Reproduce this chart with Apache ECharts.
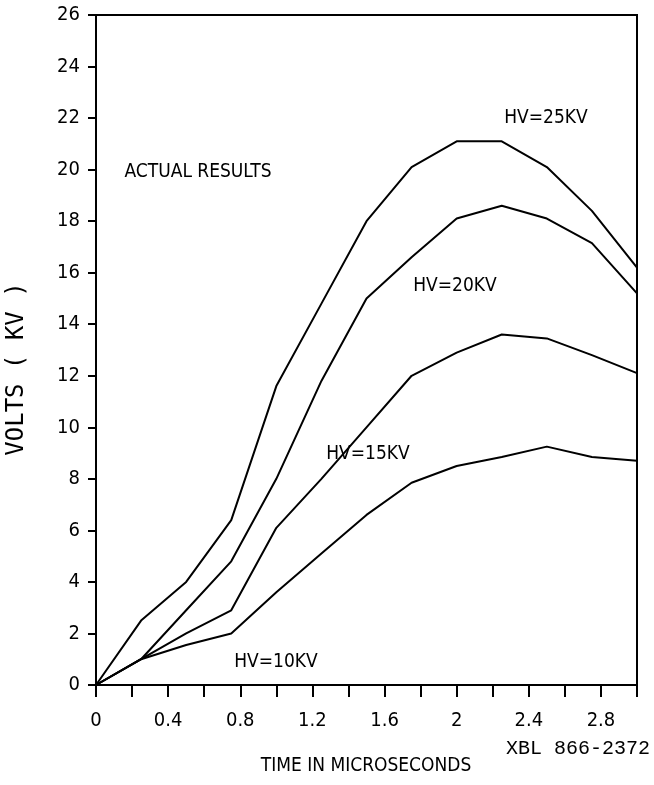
<!DOCTYPE html>
<html>
<head>
<meta charset="utf-8">
<script src="https://cdn.jsdelivr.net/npm/echarts@6/dist/echarts.min.js"></script>
<style>
html,body{margin:0;padding:0;background:#fff;}
#chart{width:654px;height:785px;}
</style>
</head>
<body>
<div id="chart"></div>
<script>
// ---- data ----
const times = [0, 0.25, 0.5, 0.75, 1.0, 1.25, 1.5, 1.75, 2.0, 2.25, 2.5, 2.75, 3.0];
const hv25 = [0, 2.5, 4.0, 6.4, 11.6, 14.8, 18.0, 20.1, 21.1, 21.1, 20.1, 18.4, 16.2];
const hv20 = [0, 1.0, 2.9, 4.8, 8.0, 11.8, 15.0, 16.6, 18.1, 18.6, 18.1, 17.15, 15.2];
const hv15 = [0, 1.0, 2.0, 2.9, 6.1, 8.0, 10.0, 12.0, 12.9, 13.6, 13.45, 12.8, 12.1];
const hv10 = [0, 1.0, 1.55, 2.0, 3.6, 5.1, 6.6, 7.85, 8.5, 8.85, 9.25, 8.85, 8.7];
const xTickLabels = ['0', '0.4', '0.8', '1.2', '1.6', '2', '2.4', '2.8'];
const seriesNames = ['HV=25KV', 'HV=20KV', 'HV=15KV', 'HV=10KV'];

const narrow = '"Liberation Sans Narrow", "DejaVu Sans Condensed", "Liberation Sans", sans-serif';

function pairs(vals) { return times.map((t, i) => [t, vals[i]]); }

const chart = echarts.init(document.getElementById('chart'), null, {renderer: 'canvas'});

const lineSeries = [hv25, hv20, hv15, hv10].map((vals, i) => ({
  name: seriesNames[i],
  type: 'line',
  data: pairs(vals),
  showSymbol: false,
  symbol: 'none',
  smooth: false,
  lineStyle: {color: '#000', width: 2},
  silent: true,
  animation: false
}));

function txt(text, x, y, size, family, align) {
  return {
    type: 'text', x: x, y: y,
    style: {text: text, fill: '#000', font: size + 'px ' + family, align: align || 'center', verticalAlign: 'middle'}
  };
}

chart.setOption({
  animation: false,
  backgroundColor: '#fff',
  grid: {left: 96, right: 17, top: 15, bottom: 100, show: true, borderColor: '#000', borderWidth: 2, backgroundColor: 'transparent'},
  xAxis: {
    type: 'value', min: 0, max: 3, interval: 0.2,
    axisLine: {show: true, onZero: false, lineStyle: {color: '#000', width: 2}},
    axisTick: {show: true, inside: false, length: 12, lineStyle: {color: '#000', width: 2}},
    splitLine: {show: false},
    axisLabel: {
      margin: 26, color: '#000', fontSize: 20, fontFamily: narrow,
      showMinLabel: true, showMaxLabel: true,
      formatter: function (v) {
        const k = Math.round(v * 10);
        if (k % 4 !== 0) return '';
        const idx = k / 4;
        return idx < xTickLabels.length ? xTickLabels[idx] : '';
      }
    }
  },
  yAxis: {
    type: 'value', min: 0, max: 26, interval: 2,
    axisLine: {show: true, onZero: false, lineStyle: {color: '#000', width: 2}},
    axisTick: {show: true, inside: false, length: 8, lineStyle: {color: '#000', width: 2}},
    splitLine: {show: false},
    axisLabel: {margin: 16, color: '#000', fontSize: 20, fontFamily: narrow, showMinLabel: true, showMaxLabel: true}
  },
  series: lineSeries,
  graphic: [
    txt('ACTUAL RESULTS', 198, 172, 19, narrow),
    txt('HV=25KV', 546, 118, 19, narrow),
    txt('HV=20KV', 455, 286, 19, narrow),
    txt('HV=15KV', 368, 454, 19, narrow),
    txt('HV=10KV', 276, 662, 19, narrow),
    txt('TIME IN MICROSECONDS', 366, 766, 19, narrow),
    txt('XBL 866-2372', 506, 749, 20, '"Liberation Mono", "DejaVu Sans Mono", monospace', 'left'),
    {
      type: 'text', x: 17, y: 369, rotation: Math.PI / 2,
      style: {text: 'VOLTS ( KV )', fill: '#000', font: '24px "DejaVu Sans Mono", "Liberation Mono", monospace', align: 'center', verticalAlign: 'middle'}
    }
  ]
});
</script>
</body>
</html>
